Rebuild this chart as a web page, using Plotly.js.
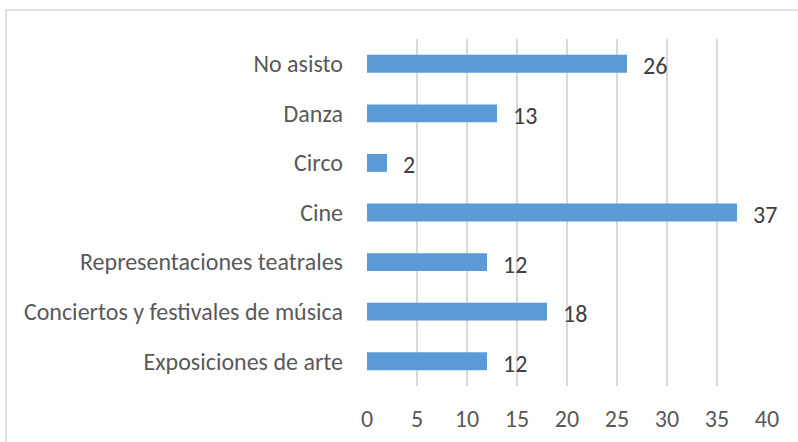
<!DOCTYPE html>
<html>
<head>
<meta charset="utf-8">
<script src="https://cdn.plot.ly/plotly-3.0.1.min.js"></script>
<style>
html,body{margin:0;padding:0;background:#fff;}
#chart{width:798px;height:442px;}
</style>
</head>
<body>
<div id="chart"></div>
<script>
const categories = ["Exposiciones de arte","Conciertos y festivales de música","Representaciones teatrales","Cine","Circo","Danza","No asisto"];
const values = [12,18,12,37,2,13,26];
const tickVals = [0,5,10,15,20,25,30,35,40];

const FONT = "Carlito, Lato, 'Open Sans', sans-serif";
const FS = 24;

const trace = {
  type: "bar",
  orientation: "h",
  y: categories,
  x: values,
  width: 0.36,
  marker: {color: "#5b9bd5"},
  hoverinfo: "none"
};

const annotations = values.map((v, i) => ({
  x: v, y: categories[i], xref: "x", yref: "y",
  text: String(v), showarrow: false, xanchor: "left", yanchor: "middle",
  xshift: 14, yshift: -2,
  font: {family: FONT, size: FS, color: "#404040"}
}));

const L = 367, R = 767, T = 39, B = 386;
const px = (p) => (p - L) / (R - L);
const py = (p) => (B - p) / (B - T);

const layout = {
  width: 798, height: 442,
  margin: {l: L, r: 798 - R, t: T, b: 442 - B, pad: 0},
  paper_bgcolor: "#fff", plot_bgcolor: "#fff",
  showlegend: false,
  xaxis: {
    range: [0, 40], tickvals: tickVals, ticktext: tickVals.map(String),
    showgrid: true, gridcolor: "#d9d9d9", gridwidth: 1.5,
    zeroline: false, showline: false, ticks: "",
    ticklabelstandoff: 16,
    tickfont: {family: FONT, size: FS, color: "#595959"},
    fixedrange: true
  },
  yaxis: {
    type: "category", categoryorder: "array", categoryarray: categories,
    range: [-0.5, 6.5],
    showgrid: false, zeroline: false, showline: false, ticks: "",
    ticklabelstandoff: 23,
    tickfont: {family: FONT, size: FS, color: "#595959"},
    fixedrange: true
  },
  annotations: annotations,
  shapes: [{
    type: "rect", xref: "paper", yref: "paper",
    x0: px(6), x1: px(805), y0: py(450), y1: py(10),
    line: {color: "#d9d9d9", width: 1.5}, fillcolor: "rgba(0,0,0,0)", layer: "below"
  }]
};

Plotly.newPlot("chart", [trace], layout, {displayModeBar: false, staticPlot: true});
</script>
</body>
</html>
